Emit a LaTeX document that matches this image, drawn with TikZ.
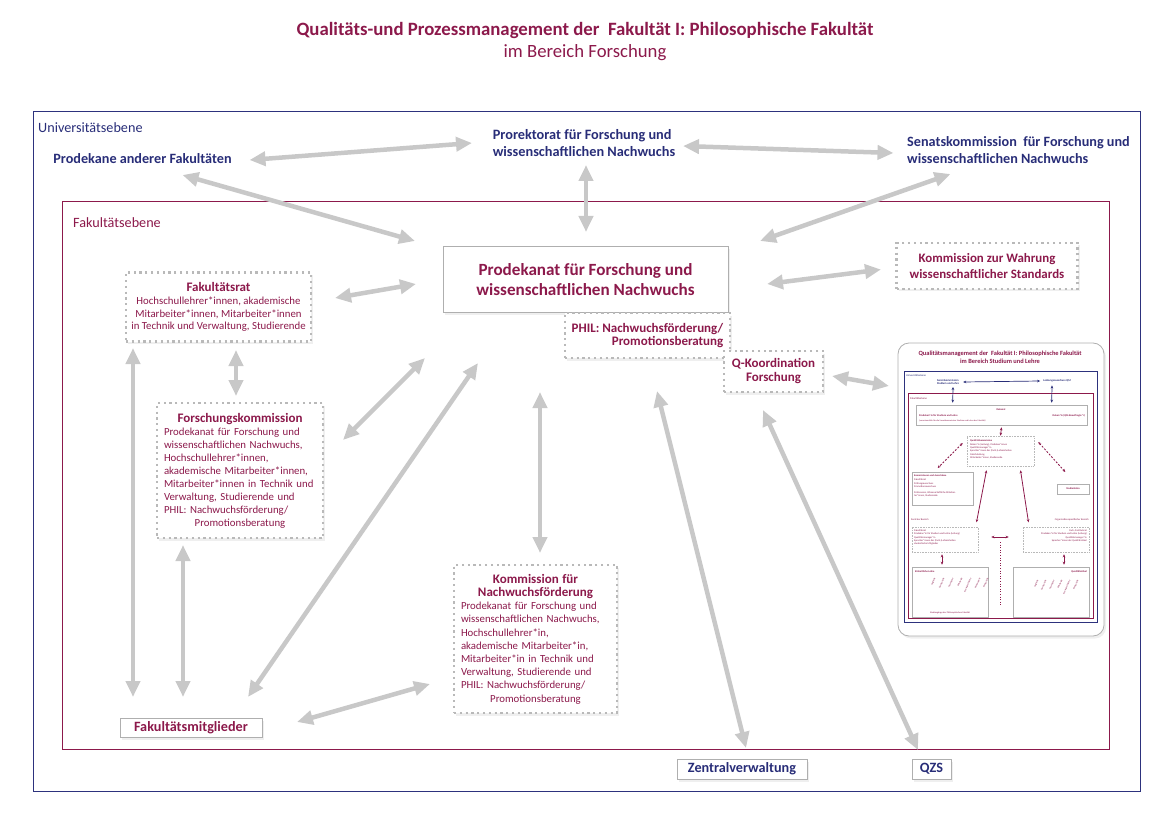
\documentclass[tikz,border=0pt]{standalone}
\usepackage{fontspec}
\setmainfont{Carlito}
\usetikzlibrary{arrows.meta,shadows,calc}
\definecolor{maroon}{RGB}{140,25,75}
\definecolor{navy}{RGB}{40,45,120}
\definecolor{framenavy}{RGB}{45,50,125}
\definecolor{arrgray}{RGB}{200,200,200}
\definecolor{boxgray}{RGB}{175,175,175}
\definecolor{dotgray}{RGB}{185,185,185}
\newcommand\fsz[2]{\fontsize{#1}{#2}\selectfont}
\begin{document}
\begin{tikzpicture}[x=1pt,y=-1pt,
  garrow/.style={draw=arrgray, line width=4.5pt,
    arrows={Triangle[length=16pt,width=14pt]-Triangle[length=16pt,width=14pt]}},
  shad/.style={drop shadow={opacity=0.13, shadow xshift=2pt, shadow yshift=-2.5pt}},
  dotbox/.style={draw=dotgray, line width=2.2pt, dash pattern=on 2.2pt off 3.6pt,
    fill=white, shad, inner sep=0pt},
  solidbox/.style={draw=boxgray, line width=1pt, fill=white, shad, inner sep=0pt},
  mtext/.style={text=maroon},
  ntext/.style={text=navy},
  tbox/.style={draw=boxgray, line width=0.6pt, fill=white},
  tdot/.style={draw=dotgray, line width=0.6pt, dash pattern=on 0.6pt off 1pt, fill=white},
  tarr/.style={draw=maroon, line width=0.8pt, arrows={Stealth[length=3pt,width=2.6pt]-Stealth[length=3pt,width=2.6pt]}},
  narr/.style={draw=navy, line width=0.7pt, arrows={Stealth[length=3pt,width=2.6pt]-Stealth[length=3pt,width=2.6pt]}},
  tt/.style={text=maroon, font=\fsz{2.5}{3.3}, inner sep=0pt},
  ttb/.style={text=maroon, font=\fsz{2.6}{3.3}\bfseries, inner sep=0pt},
]
\useasboundingbox (0,0) rectangle (1168,821);

% ---------- title ----------
\node[mtext, font=\fsz{18.8}{22}\bfseries] (title1) at (585,30) {Qualitäts-und Prozessmanagement der\ \ Fakultät I: Philosophische Fakultät};
\node[mtext, font=\fsz{18.7}{22}] (title2) at (585,53) {im Bereich Forschung};

% ---------- frames ----------
\draw[framenavy, line width=1pt] (33,112) rectangle (1140,791);
\node[ntext, anchor=west, font=\fsz{14.2}{17}, inner sep=0pt] (uebene) at (38,128) {Universitätsebene};
\draw[maroon, line width=1pt] (62,202) rectangle (1109,749);
\node[mtext, anchor=west, font=\fsz{14.2}{17}, inner sep=0pt] (febene) at (73,223) {Fakultätsebene};

% ---------- university level ----------
\node[ntext, font=\fsz{14.2}{17}\bfseries] (prodekane) at (142.5,159) {Prodekane anderer Fakultäten};
\node[ntext, font=\fsz{14.3}{17}\bfseries, align=left] (prorektorat) at (584,143) {Prorektorat für Forschung und\\wissenschaftlichen Nachwuchs};
\node[ntext, font=\fsz{14.2}{17}\bfseries, align=left] (senat) at (1018.5,150) {Senatskommission\ \ für Forschung und\\wissenschaftlichen Nachwuchs};

% ---------- faculty level ----------
\node[solidbox, minimum width=285pt, minimum height=65pt, mtext,
  font=\fsz{17.1}{20}\bfseries, align=center] (prodekanat) at (585.5,279.5)
  {Prodekanat für Forschung und\\wissenschaftlichen Nachwuchs};
\node[dotbox, minimum width=165pt, minimum height=45pt, mtext,
  font=\fsz{13}{13}\bfseries, align=right] (phil) at (647.5,335.5)
  {PHIL: Nachwuchsförderung/\\Promotionsberatung\hspace{7pt}};
\node[dotbox, minimum width=99pt, minimum height=41pt, mtext,
  font=\fsz{13}{14}\bfseries, align=center] (qkoord) at (773.5,371.5)
  {Q-Koordination\\Forschung};
\node[dotbox, minimum width=181pt, minimum height=46pt, mtext,
  font=\fsz{12.9}{16}\bfseries, align=center] (wahrung) at (987,266)
  {Kommission zur Wahrung\\wissenschaftlicher Standards};
\node[dotbox, minimum width=185pt, minimum height=69pt, mtext,
  font=\fsz{10.8}{12.8}, align=center] (frat) at (218.5,307)
  {{\fsz{13}{13}\bfseries Fakultätsrat}\\Hochschullehrer*innen, akademische\\Mitarbeiter*innen, Mitarbeiter*innen\\in Technik und Verwaltung, Studierende};
\node[dotbox, minimum width=166pt, minimum height=135pt, mtext,
  font=\fsz{10.8}{13}, text width=152pt, align=left] (fkom) at (240,470.5)
  {\makebox[\linewidth]{\fsz{13}{13}\bfseries Forschungskommission}\\
   Prodekanat für Forschung und\\wissenschaftlichen Nachwuchs,\\Hochschullehrer*innen,\\
   akademische Mitarbeiter*innen,\\Mitarbeiter*innen in Technik und\\
   Verwaltung, Studierende und\\PHIL: Nachwuchsförderung/\\
   \makebox[\linewidth]{Promotionsberatung}};
\node[dotbox, minimum width=163pt, minimum height=148pt, mtext,
  font=\fsz{10.8}{13.2}, text width=149pt, align=left] (knach) at (535.5,639)
  {\makebox[\linewidth]{\fsz{13}{13}\bfseries Kommission für}\\
   \makebox[\linewidth]{\fsz{13}{13}\bfseries Nachwuchsförderung}\\
   Prodekanat für Forschung und\\wissenschaftlichen Nachwuchs,\\Hochschullehrer*in,\\
   akademische Mitarbeiter*in,\\Mitarbeiter*in in Technik und\\
   Verwaltung, Studierende und\\PHIL: Nachwuchsförderung/\\
   \makebox[\linewidth]{Promotionsberatung}};
\node[solidbox, minimum width=142pt, minimum height=19pt, mtext,
  font=\fsz{14.2}{15}\bfseries] (fmit) at (191,727.5) {Fakultätsmitglieder};
\node[solidbox, minimum width=130pt, minimum height=20pt, ntext,
  font=\fsz{14.2}{15}\bfseries] (zentral) at (742,769) {Zentralverwaltung};
\node[solidbox, minimum width=39pt, minimum height=20pt, ntext,
  font=\fsz{14.2}{15}\bfseries] (qzs) at (931.5,769) {QZS};

% ---------- thumbnail ----------
\node[draw=boxgray, line width=0.8pt, rounded corners=11pt, fill=white, shad,
  minimum width=206pt, minimum height=293pt, inner sep=0pt] (thumb) at (1001,489.5) {};
\node[text=maroon, font=\fsz{6.4}{8.5}\bfseries, align=center, inner sep=0pt] (ttitle) at (1000,357.5)
  {Qualitätsmanagement der\ \ Fakultät I: Philosophische Fakultät\\im Bereich Studium und Lehre};
\draw[framenavy, line width=0.9pt] (904,371) rectangle (1097,622);
\draw[maroon, line width=0.9pt] (908,393) rectangle (1093,618);
\node[text=navy, font=\fsz{2.7}{3.3}, anchor=west, inner sep=0pt] (tuni) at (906,376) {Universitätsebene};
\node[text=navy, font=\fsz{2.8}{3.6}\bfseries, align=left, inner sep=0pt] (tsen) at (948,382) {Senatskommission\\Studium und Lehre};
\node[text=navy, font=\fsz{2.8}{3.6}\bfseries, inner sep=0pt] (tlen) at (1057,381) {Lenkungsausschuss QM};
\draw[narr] (tsen.east) ++(4,0) -- ($(tlen.west)+(-3,0)$);
\node[text=maroon, font=\fsz{2.7}{3.3}, anchor=west, inner sep=0pt] (tfak) at (910,399) {Fakultätsebene};
\node[tbox, minimum width=171pt, minimum height=20pt] (tdek) at (1001.5,415) {};
\draw[narr] ($(tsen.south)+(5,2)$) -- ($(tdek.north west)+(37,-2)$);
\draw[narr] ($(tlen.south)+(-5,3)$) -- ($(tdek.north west)+(136,-2)$);
\node[ttb] (tdek1) at (1001,410) {Dekanat};
\node[ttb, anchor=west] (tdek2) at (919,416) {Prodekan*in für Studium und Lehre};
\node[tt, anchor=west, font=\fsz{2.2}{3}] (tdek3) at (919,421) {(verantwortlich für die Senatskommission Studium und Lehre der Fakultät)};
\node[ttb, anchor=east] (tdek4) at (1085,416) {Dekan*in (QM-Beauftragte*r)};
\node[tdot, minimum width=67pt, minimum height=30pt] (tqk) at (1000.5,451) {};
\node[tt, align=left, anchor=north west] (tqkt) at (970,440)
  {{\bfseries Qualitätskommission}\\Dekan*in (Leitung), Prodekan*innen\\Qualitätsmanager*in\\Sprecher*innen der (Fach-)Lehreinheiten\\Gleichstellung\\Mitarbeiter*innen, Studierende};
\draw[tarr] (tdek.south) ++(0,2) -- (tqk.north);
\draw[tarr, dashed, dash pattern=on 2pt off 1.5pt] ($(tqk.west)+(-4,-8)$) -- ($(tqk.west)+(-29,17)$);
\draw[tarr, dashed, dash pattern=on 2pt off 1.5pt] ($(tqk.east)+(4,-9)$) -- ($(tqk.east)+(31,21)$);
\node[tbox, minimum width=61pt, minimum height=33pt] (tkom) at (942.5,488.5) {};
\node[tt, align=left, anchor=north west] (tkomt) at (914,474.5)
  {{\bfseries Kommissionen und Ausschüsse}\\[1pt]Fakultätsrat\\Prüfungsausschuss\\Promotionsausschuss\\[3pt]Professoren, Wissenschaftliche Mitarbei-\\ter*innen, Studierende};
\node[tbox, minimum width=32pt, minimum height=10pt, ttb] (tstb) at (1073,489) {Studienbüro};
\draw[tarr] ($(tqk.south)+(-14,4)$) -- ($(tqk.south)+(-24,56)$);
\draw[tarr] ($(tqk.south)+(20,4)$) -- ($(tqk.south)+(28,56)$);
\node[tt, anchor=west] (tzen) at (911,520) {Zentraler Bereich};
\node[tt, anchor=east] (torg) at (1089,520) {Organisationsspezifischer Bereich};
\node[tdot, minimum width=66pt, minimum height=25pt] (tzl) at (945,539.5) {};
\node[tt, align=left, anchor=north west] (tzlt) at (914,529.5)
  {Fakultätsrat\\Prodekan*in für Studium und Lehre (Leitung)\\Qualitätsmanager*in\\Sprecher*innen der (Fach-)Lehreinheiten\\studentische Mitglieder};
\node[tdot, minimum width=66pt, minimum height=25pt] (tzr) at (1056,539.5) {};
\node[tt, align=right, anchor=north east] (tzrt) at (1087,529.5)
  {Fach-/Institutsrat\\Prodekan*in für Studium und Lehre (Leitung)\\Qualitätsmanager*in\\Sprecher*innen der Qualitätszirkel};
\draw[tarr] ($(tzl.east)+(13,-2.5)$) -- ($(tzr.west)+(-14,-2.5)$);
\draw[maroon, line width=0.6pt, dotted] ($(tzl.east)+(22,2.5)$) -- ($(tzl.east)+(22,65.5)$);
\node[tbox, minimum width=76pt, minimum height=50pt] (tbl) at (950,592) {};
\node[tbox, minimum width=76pt, minimum height=50pt] (tbr) at (1051,592) {};
\draw[tarr] ($(tzl.south)+(-3,2)$) -- ($(tbl.north)+(-8,-2)$);
\draw[tarr] ($(tzr.south)+(8,2)$) -- ($(tbr.north)+(13,-2)$);
\node[ttb, anchor=north west] (tblt) at (915,570) {Einheitliche Lehre};
\node[tt, font=\fsz{2.3}{3}] (tblb) at (950,613) {Studiengänge der Philosophischen Fakultät};
\foreach \x/\t [count=\i] in {935/Anglistik, 944/Germanistik, 953/Geschichte, 962/Philologie, 971/Kunstgeschichte, 980/Philosophie, 988/Romanistik}{
  \node[tt, font=\fsz{2.3}{3}, rotate=66, anchor=east] (tbl\i) at (\x,578) {\t};
}
\node[ttb, anchor=north east] (tbrt) at (1087,570) {Qualitätszirkel};
\foreach \x/\t [count=\i] in {1038/Anglistik, 1046/Germanistik, 1054/Geschichte, 1062/Philologie, 1070/Kunstgeschichte, 1078/Romanistik}{
  \node[tt, font=\fsz{2.3}{3}, rotate=66, anchor=east] (tbr\i) at (\x,580) {\t};
}

% ---------- grey arrows ----------
\draw[garrow] ($(prodekane)+(107,1)$) -- ($(prorektorat)+(-112,0)$);
\draw[garrow] ($(prorektorat)+(99,3)$) -- ($(senat)+(-125,3)$);
\draw[garrow] ($(prodekane)+(40,16)$) -- ($(prodekanat)+(-170.5,-38.5)$);
\draw[garrow] ($(prorektorat)+(2,22)$) -- ($(prodekanat)+(0.5,-47.5)$);
\draw[garrow] ($(senat)+(-68,24)$) -- ($(prodekanat)+(174.5,-38.5)$);
\draw[garrow] ($(prodekanat)+(181.5,4.5)$) -- ($(wahrung)+(-106,3.5)$);
\draw[garrow] ($(prodekanat)+(-169.5,4.5)$) -- ($(frat)+(116.5,-9)$);
\draw[garrow] ($(frat)+(17.5,43)$) -- ($(fkom)+(-4,-74.5)$);
\draw[garrow] ($(frat)+(-85.5,41)$) -- ($(fmit)+(-58,-30.5)$);
\draw[garrow] ($(fkom)+(-57,74.5)$) -- ($(fmit)+(-8,-30.5)$);
\draw[garrow] ($(prodekanat)+(-160.5,78.5)$) -- ($(fkom)+(103,-30.5)$);
\draw[garrow] ($(prodekanat)+(-107.5,83.5)$) -- ($(fmit)+(57,-30.5)$);
\draw[garrow] ($(prodekanat)+(-45.5,112.5)$) -- ($(knach)+(4.5,-86)$);
\draw[garrow] ($(knach)+(-105.5,45)$) -- ($(fmit)+(106,-5.5)$);
\draw[garrow] ($(prodekanat)+(71.5,111.5)$) -- ($(zentral)+(4,-21)$);
\draw[garrow] ($(prodekanat)+(177.5,130.5)$) -- ($(qzs)+(-13.5,-19)$);
\draw[garrow] ($(qkoord)+(58.5,4.5)$) -- ($(thumb)+(-112,-103.5)$);
\end{tikzpicture}
\end{document}
